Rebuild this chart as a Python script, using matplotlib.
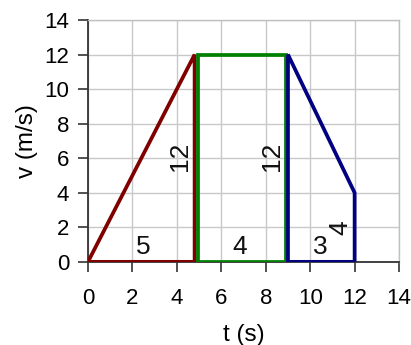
import matplotlib
matplotlib.use('Agg')
import matplotlib.pyplot as plt

plt.rcParams['font.family'] = ['Liberation Sans', 'DejaVu Sans']

# shape outlines (t, v) - drawn with tiny gaps so they don't overlap
tri_t = [0, 4.8, 4.8, 0]
tri_v = [0, 12, 0, 0]
rect_t = [4.95, 4.95, 8.9, 8.9, 4.95]
rect_v = [0, 12, 12, 0, 0]
trap_t = [9, 9, 12, 12, 9]
trap_v = [0, 12, 4, 0, 0]

# area labels: text, t, v, rotation
labels = ['5', '12', '4', '12', '3', '4']
label_t = [2.5, 4.15, 6.85, 8.3, 10.45, 11.35]
label_v = [0.85, 6.1, 0.85, 6.1, 0.85, 2.0]
label_rot = [0, 90, 0, 90, 0, 90]

fig = plt.figure(figsize=(4.11, 3.45), dpi=100)
ax = fig.add_axes([0.214, 0.241, 0.757, 0.701])

ax.plot(tri_t, tri_v, color='#800000', lw=2.7, solid_joinstyle='miter', zorder=3)
ax.plot(rect_t, rect_v, color='#008000', lw=2.7, solid_joinstyle='miter', zorder=3)
ax.plot(trap_t, trap_v, color='#000080', lw=2.7, solid_joinstyle='miter', zorder=3)

for s, t, v, r in zip(labels, label_t, label_v, label_rot):
    ax.text(t, v, s, rotation=r, ha='center', va='center', fontsize=19, color='#111111')

ax.set_xlim(0, 14)
ax.set_ylim(0, 14)
ax.set_xticks(range(0, 15, 2))
ax.set_yticks(range(0, 15, 2))
ax.grid(True, color='#c8c8c8', lw=1)
ax.set_axisbelow(True)

for side in ['top', 'right']:
    ax.spines[side].set_color('#c0c0c0')
    ax.spines[side].set_linewidth(1)
ax.spines['left'].set_color('#333333')
ax.spines['bottom'].set_color('#333333')
ax.spines['left'].set_linewidth(1.3)
ax.spines['bottom'].set_linewidth(1.3)

ax.tick_params(direction='out', length=7.5, width=1.2, labelsize=16, color='#333333', pad=6)
ax.tick_params(axis='x', pad=11)

ax.set_xlabel('t (s)', fontsize=17.5)
ax.set_ylabel('v (m/s)', fontsize=17.5)
ax.xaxis.set_label_coords(0.5, -0.255)
ax.yaxis.set_label_coords(-0.16, 0.5)

fig.savefig('out.png', dpi=100)
